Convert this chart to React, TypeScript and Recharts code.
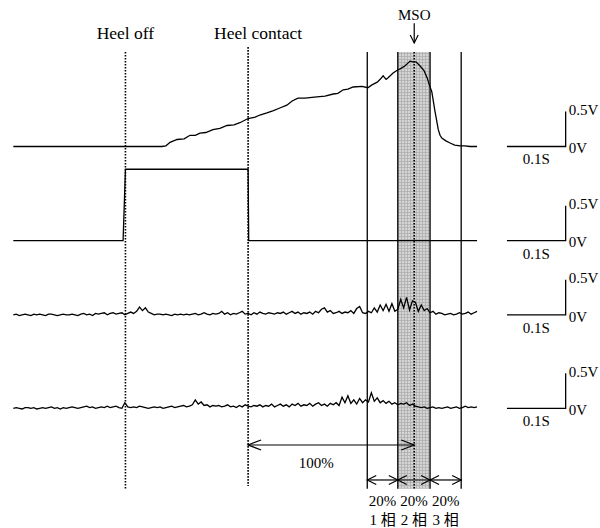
import React from "react";
import {
  LineChart,
  Line,
  XAxis,
  YAxis,
  ReferenceLine,
  ReferenceArea,
  ReferenceDot,
} from "recharts";

const SERIF = "'Liberation Serif', 'Times New Roman', 'Noto Sans CJK SC', serif";

// ---- data (time in s, signal in V) ----
const EMG_STEP = 0.005;

// channel 1: [t, V]
const ch1 = [
  [0, 0], [0.253, 0], [0.26, 0.01], [0.267, 0.06], [0.279, 0.1], [0.291, 0.11],
  [0.301, 0.16], [0.31, 0.16], [0.318, 0.19], [0.328, 0.2], [0.34, 0.24],
  [0.352, 0.26], [0.364, 0.3], [0.376, 0.31], [0.386, 0.34], [0.4, 0.4],
  [0.412, 0.42], [0.42, 0.45], [0.432, 0.48], [0.442, 0.51], [0.454, 0.55],
  [0.466, 0.59], [0.475, 0.65], [0.485, 0.69], [0.497, 0.69], [0.517, 0.71],
  [0.531, 0.72], [0.545, 0.75], [0.553, 0.76], [0.562, 0.81], [0.57, 0.82],
  [0.579, 0.85], [0.594, 0.86], [0.604, 0.84], [0.611, 0.88], [0.62, 0.92],
  [0.625, 0.96], [0.63, 1.01], [0.635, 0.96], [0.638, 0.98], [0.647, 1.05],
  [0.654, 1.09], [0.659, 1.11], [0.667, 1.15], [0.676, 1.22], [0.681, 1.21],
  [0.686, 1.21], [0.693, 1.15], [0.7, 1.08], [0.705, 0.98], [0.71, 0.85],
  [0.713, 0.78], [0.718, 0.52], [0.724, 0.24], [0.727, 0.16], [0.73, 0.12],
  [0.737, 0.08], [0.744, 0.05], [0.752, 0.02], [0.761, 0.01], [0.769, 0.01],
  [0.778, 0], [0.79, 0],
];

// channel 2: foot switch [t, V]
const ch2 = [
  [0, 0], [0.187, 0], [0.191, 1.02], [0.4, 1.02], [0.401, 0], [0.79, 0],
];

// channel 3: EMG, one value per EMG_STEP
const ch3 = [
  0, 0.01, -0.01, 0, 0.01, 0, -0.01, 0.01, 0, 0.01,
  0, -0.01, 0.01, 0.01, 0, -0.01, 0, 0.01, 0, 0,
  0.01, 0, -0.01, 0.01, 0.02, 0, 0.01, -0.01, 0.02, 0.01,
  0.02, 0.03, 0, 0.02, 0.03, 0.01, 0.02, 0.03, 0, 0.02,
  0.04, 0.02, 0.05, 0.11, 0.06, 0.1, 0.04, 0.02, 0, 0.01,
  0.01, 0, 0.01, 0, -0.01, 0.01, 0, 0.01, 0, 0.01,
  0, 0.01, 0.02, 0, 0.01, 0.03, 0.01, 0, 0.02, 0.01,
  0.02, 0.05, 0.01, 0.03, 0, 0.02, 0.01, 0.03, 0.05, 0.01,
  0.02, 0, 0.03, 0.01, 0.04, 0.02, 0.01, 0.03, 0.02, 0.01,
  0.03, 0.02, 0.04, 0.01, 0.03, 0.05, 0.02, 0.04, 0.01, 0.03,
  0.02, 0.04, 0.01, 0.05, 0.03, 0.08, 0.1, 0.04, 0.06, 0.02,
  0.03, 0.05, 0.02, 0.04, 0.03, 0.06, 0.02, 0.09, 0.12, 0.03,
  0.02, 0.05, 0.03, 0.1, 0.04, 0.14, 0.06, 0.15, 0.05, 0.16,
  0.05, 0.08, 0.22, 0.1, 0.25, 0.07, 0.2, 0.18, 0.05, 0.14,
  0.06, 0.09, 0.03, 0.05, 0.01, 0.03, 0.02, 0, 0.01, 0.02,
  0, 0.01, 0.03, 0.01, 0.02, 0.04, 0.01, 0.03, 0.05,
];

// channel 4: EMG, one value per EMG_STEP
const ch4 = [
  0, 0.01, 0, -0.01, 0.01, 0.01, 0, 0.01, -0.01, 0,
  0.01, 0, 0.01, 0.02, 0, 0.01, -0.01, 0.01, 0, 0.01,
  0.02, 0.01, 0, 0.01, 0.02, 0.03, 0.01, 0.02, 0, 0.01,
  0.02, 0.01, 0.03, 0.01, 0.02, 0.03, 0.01, 0, 0.08, 0.02,
  0.01, 0.02, 0.01, 0.03, 0.02, 0.01, 0, 0.01, 0.02, 0.01,
  0.02, 0, 0.01, 0.02, 0.03, 0.01, 0.02, 0.03, 0.04, 0.02,
  0.03, 0.05, 0.12, 0.06, 0.09, 0.04, 0.05, 0.02, 0.04, 0.03,
  0.04, 0.02, 0.03, 0.05, 0.02, 0.03, 0.01, 0.04, 0.02, 0.05,
  0.03, 0.02, 0.04, 0.03, 0.05, 0.02, 0.04, 0.03, 0.06, 0.02,
  0.04, 0.06, 0.03, 0.05, 0.02, 0.06, 0.04, 0.07, 0.03, 0.05,
  0.04, 0.07, 0.03, 0.06, 0.08, 0.04, 0.06, 0.03, 0.07, 0.05,
  0.08, 0.04, 0.16, 0.08, 0.18, 0.07, 0.12, 0.06, 0.14, 0.08,
  0.12, 0.09, 0.22, 0.1, 0.15, 0.08, 0.11, 0.07, 0.1, 0.06,
  0.08, 0.05, 0.07, 0.06, 0.08, 0.04, 0.06, 0.03, 0.02, 0.01,
  0.02, 0, 0.01, 0.02, 0, 0.01, 0, 0.01, 0.02, 0,
  0.01, 0.02, 0, 0.01, 0.03, 0.01, 0.02, 0.01, 0.02,
];

// events (s)
const eventNames = ["Heel off", "Heel contact"];
const eventTimes = [0.191, 0.4];
const msoTime = 0.683;
const phaseBounds = [0.603, 0.655, 0.71, 0.763];
const phasePct = ["20%", "20%", "20%"];
const phaseNames = ["1 相", "2 相", "3 相"];
const spanLabel = "100%";

// scale bars
const SCALE_T0 = 0.841;
const SCALE_DT = 0.1;
const SCALE_DV = 0.5;

// ---- layout ----
const X_DOMAIN = [-0.0227, 0.9995];
const Y_DOMAIN = [-5.45, 2.093];
const channelOffset = [0, -1.345, -2.405, -3.74];
const LINE_TOP = 1.35;
const LINE_BOTTOM = -4.89;
const HC_TOP = 1.42;
const HC_BOTTOM = -4.85;
const EVENT_LABEL_Y = 1.62;
const MSO_LABEL_Y = 1.88;
const MSO_ARROW = [1.76, 1.48];
const SPAN_ARROW_Y = -4.264;
const SPAN_LABEL_Y = -4.51;
const PHASE_ARROW_Y = -4.764;
const PCT_Y = -5.06;
const NAME_Y = -5.33;

const pairs = (pts: number[][], off: number) => pts.map(([t, v]) => ({ t, y: v + off }));
const sampled = (vals: number[], off: number) =>
  vals.map((v, i) => ({ t: +(i * EMG_STEP).toFixed(3), y: v + off }));
const scaleBar = (off: number) => [
  { t: SCALE_T0, y: off },
  { t: SCALE_T0 + SCALE_DT, y: off },
  { t: SCALE_T0 + SCALE_DT, y: off + SCALE_DV },
];

const series = [
  pairs(ch1, channelOffset[0]),
  pairs(ch2, channelOffset[1]),
  sampled(ch3, channelOffset[2]),
  sampled(ch4, channelOffset[3]),
];

const arrow = (start: boolean, end: boolean, len: number, half: number) => (p: any) => {
  const { x1, y1, x2, y2 } = p;
  const dx = x2 - x1;
  const dy = y2 - y1;
  const L = Math.hypot(dx, dy) || 1;
  const ux = dx / L;
  const uy = dy / L;
  const nx = -uy;
  const ny = ux;
  const head = (x: number, y: number, dir: number) =>
    `M${x + dir * ux * len + nx * half},${y + dir * uy * len + ny * half} L${x},${y} L${
      x + dir * ux * len - nx * half
    },${y + dir * uy * len - ny * half}`;
  const d = [start ? head(x1, y1, 1) : "", end ? head(x2, y2, -1) : ""].join(" ");
  return (
    <g>
      <line x1={x1} y1={y1} x2={x2} y2={y2} stroke="#000" strokeWidth={1.2} />
      <path d={d} fill="none" stroke="#000" strokeWidth={1.2} />
    </g>
  );
};

const txt = (key: string, x: number, y: number, value: string, size = 15, position: any = "center") => (
  <ReferenceDot
    key={key}
    x={x}
    y={y}
    r={0}
    fill="none"
    stroke="none"
    ifOverflow="visible"
    label={{ value, position, fill: "#000", fontSize: size, fontFamily: SERIF, offset: 3 }}
  />
);

const vline = (key: string, t: number, top: number, bottom: number, dotted: boolean) => (
  <ReferenceLine
    key={key}
    segment={[{ x: t, y: top }, { x: t, y: bottom }]}
    stroke="#000"
    strokeWidth={dotted ? 1.6 : 1.3}
    strokeDasharray={dotted ? "1.6 1.4" : undefined}
  />
);

export default function App() {
  return (
    <div style={{ position: "absolute", left: 0, top: 0, width: 600, height: 528, background: "#fff" }}>
      <LineChart width={600} height={528} margin={{ top: 0, right: 0, bottom: 0, left: 0 }}>
        <defs>
          <pattern id="grid" width="3" height="3" patternUnits="userSpaceOnUse">
            <rect width="3" height="3" fill="#d4d4d4" />
            <path d="M2.5 0 V3 M0 2.5 H3" stroke="#a9a9a9" strokeWidth="0.7" />
          </pattern>
        </defs>
        <XAxis type="number" dataKey="t" domain={X_DOMAIN} hide allowDataOverflow />
        <YAxis type="number" domain={Y_DOMAIN} hide allowDataOverflow />

        <ReferenceArea
          x1={phaseBounds[1]}
          x2={phaseBounds[2]}
          y1={LINE_BOTTOM}
          y2={LINE_TOP}
          fill="url(#grid)"
          fillOpacity={1}
          stroke="none"
        />

        {vline("ho", eventTimes[0], LINE_TOP, LINE_BOTTOM, true)}
        {vline("hc", eventTimes[1], HC_TOP, HC_BOTTOM, true)}
        {vline("mso", msoTime, LINE_TOP, LINE_BOTTOM, true)}
        {phaseBounds.map((t, i) => vline(`pb${i}`, t, LINE_TOP, LINE_BOTTOM, false))}

        {series.map((d, i) => (
          <Line
            key={`ch${i}`}
            data={d}
            dataKey="y"
            type="linear"
            stroke="#000"
            strokeWidth={1.3}
            dot={false}
            activeDot={false}
            isAnimationActive={false}
          />
        ))}
        {channelOffset.map((off, i) => (
          <Line
            key={`sb${i}`}
            data={scaleBar(off)}
            dataKey="y"
            type="linear"
            stroke="#000"
            strokeWidth={1.3}
            dot={false}
            activeDot={false}
            isAnimationActive={false}
          />
        ))}

        {/* annotations */}
        {txt("hoL", eventTimes[0], EVENT_LABEL_Y, eventNames[0], 17.5)}
        {txt("hcL", eventTimes[1] + 0.017, EVENT_LABEL_Y, eventNames[1], 17.5)}
        {txt("msoL", msoTime, MSO_LABEL_Y, "MSO", 15)}
        <ReferenceLine
          segment={[{ x: msoTime, y: MSO_ARROW[0] }, { x: msoTime, y: MSO_ARROW[1] }]}
          shape={arrow(false, true, 8, 4)}
        />
        <ReferenceLine
          segment={[{ x: eventTimes[1], y: SPAN_ARROW_Y }, { x: msoTime, y: SPAN_ARROW_Y }]}
          shape={arrow(true, true, 13, 5)}
        />
        {txt("span", eventTimes[1] + 0.116, SPAN_LABEL_Y, spanLabel)}
        {phasePct.map((p, i) => (
          <ReferenceLine
            key={`pa${i}`}
            segment={[{ x: phaseBounds[i], y: PHASE_ARROW_Y }, { x: phaseBounds[i + 1], y: PHASE_ARROW_Y }]}
            shape={arrow(true, true, 9, 4.5)}
          />
        ))}
        {phasePct.map((p, i) => txt(`pct${i}`, (phaseBounds[i] + phaseBounds[i + 1]) / 2, PCT_Y, p))}
        {phaseNames.map((p, i) => txt(`pn${i}`, (phaseBounds[i] + phaseBounds[i + 1]) / 2, NAME_Y, p))}

        {channelOffset.map((off, i) => (
          <React.Fragment key={`sl${i}`}>
            {txt(`v5${i}`, SCALE_T0 + SCALE_DT, off + SCALE_DV + 0.03, "0.5V", 15, "right")}
            {txt(`v0${i}`, SCALE_T0 + SCALE_DT, off - 0.02, "0V", 15, "right")}
            {txt(`s1${i}`, SCALE_T0 + SCALE_DT / 2, off - 0.18, "0.1S", 15)}
          </React.Fragment>
        ))}
      </LineChart>
    </div>
  );
}
